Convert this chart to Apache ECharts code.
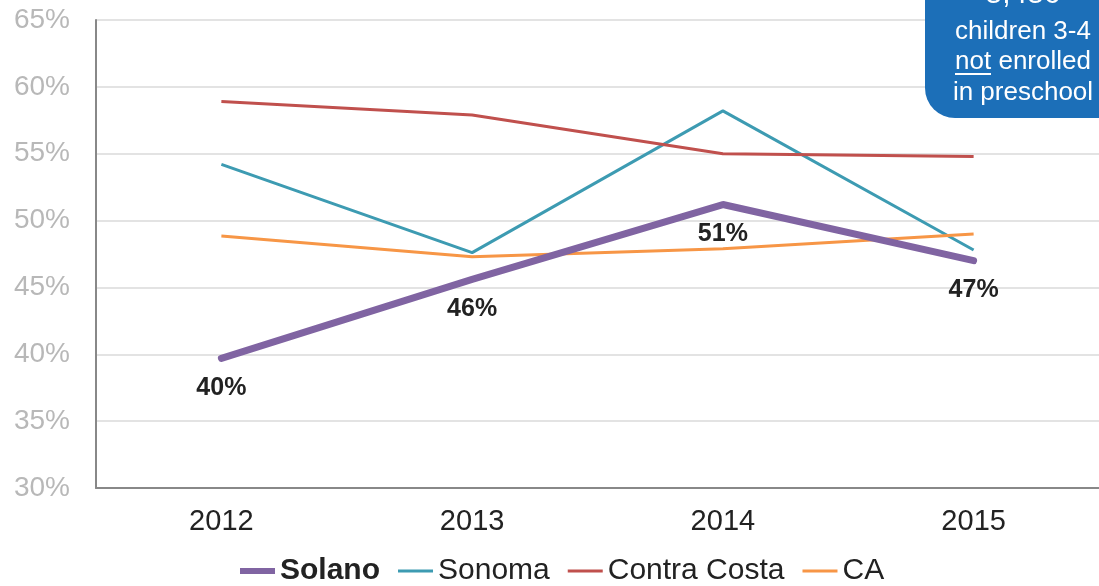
<!DOCTYPE html>
<html>
<head>
<meta charset="utf-8">
<script src="https://cdn.jsdelivr.net/npm/echarts@6/dist/echarts.min.js"></script>
<style>
  html, body { margin: 0; padding: 0; background: #fff; }
  #chart { width: 1099px; height: 586px; }
</style>
</head>
<body>
<div id="chart"></div>
<script>
// data
var years = ['2012', '2013', '2014', '2015']
var solano = [39.7, 45.6, 51.2, 47.0]
var sonoma = [54.2, 47.6, 58.2, 47.8]
var contraCosta = [58.9, 57.9, 55.0, 54.8]
var caState = [48.85, 47.3, 47.9, 49.0]
var solanoLabels = ['40%', '46%', '51%', '47%']

var font = 'Liberation Sans, Arial, sans-serif'
var thickIcon = 'path://M0,0 L35,0 L35,6 L0,6 Z'
var thinIcon = 'path://M0,0 L35,0 L35,3 L0,3 Z'
var myChart = echarts.init(document.getElementById('chart'))

function thinLine(name, data, color) {
    return {
        name: name,
        type: 'line',
        data: data,
        symbol: 'none',
        lineStyle: { width: 3, color: color },
        itemStyle: { color: color },
        z: 2
    }
}

var option = {
    animation: false,
    grid: { left: 96, right: -3, top: 20, bottom: 98 },
    legend: {
        left: 235,
        top: 551,
        itemWidth: 35,
        itemHeight: 6,
        itemGap: 18,
        textStyle: { fontFamily: font, fontSize: 30, color: '#222' },
        data: [
            { name: 'Solano', icon: thickIcon, textStyle: { fontWeight: 'bold' } },
            { name: 'Sonoma', icon: thinIcon },
            { name: 'Contra Costa', icon: thinIcon },
            { name: 'CA', icon: thinIcon }
        ]
    },
    xAxis: {
        type: 'category',
        data: years,
        boundaryGap: true,
        axisLine: { lineStyle: { color: '#888', width: 2 } },
        axisTick: { show: false },
        axisLabel: { fontFamily: font, fontSize: 29, color: '#222', margin: 19 }
    },
    yAxis: {
        type: 'value',
        min: 30,
        max: 65,
        interval: 5,
        axisLine: { show: true, lineStyle: { color: '#888', width: 2 } },
        axisTick: { show: false },
        splitLine: { lineStyle: { color: '#dadada', width: 1.5 } },
        axisLabel: {
            fontFamily: font, fontSize: 28, color: '#b8b8b8', margin: 26,
            formatter: '{value}%'
        }
    },
    series: [
        {
            name: 'Solano',
            type: 'line',
            data: solano,
            symbol: 'circle',
            symbolSize: 0,
            showSymbol: true,
            lineStyle: { width: 7, color: '#8064a2', cap: 'round' },
            itemStyle: { color: '#8064a2' },
            z: 4,
            label: {
                show: true,
                position: 'bottom',
                distance: 17,
                fontFamily: font,
                fontSize: 25,
                fontWeight: 'bold',
                color: '#222',
                formatter: function (p) { return solanoLabels[p.dataIndex] }
            }
        },
        thinLine('Sonoma', sonoma, '#3d9bb2'),
        thinLine('Contra Costa', contraCosta, '#c0504d'),
        thinLine('CA', caState, '#f79646')
    ],
    graphic: [
        {
            type: 'rect',
            shape: { x: 925, y: -40, width: 200, height: 158, r: [0, 0, 0, 30] },
            style: { fill: '#1c6fb8' },
            z: 10
        },
        {
            type: 'text',
            x: 1023, y: -5,
            style: {
                text: '5,456', fill: '#fff', font: '30px ' + font,
                textAlign: 'center', textVerticalAlign: 'middle'
            },
            z: 11
        },
        {
            type: 'text',
            x: 1023, y: 32,
            style: {
                text: 'children 3-4', fill: '#fff', font: '26px ' + font,
                textAlign: 'center', textVerticalAlign: 'middle'
            },
            z: 11
        },
        {
            type: 'text',
            x: 1023, y: 62,
            style: {
                text: 'not enrolled', fill: '#fff', font: '26px ' + font,
                textAlign: 'center', textVerticalAlign: 'middle'
            },
            z: 11
        },
        {
            // underline under "not"
            type: 'rect',
            shape: { x: 955, y: 73, width: 36, height: 2 },
            style: { fill: '#fff' },
            z: 11
        },
        {
            type: 'text',
            x: 1023, y: 93,
            style: {
                text: 'in preschool', fill: '#fff', font: '26px ' + font,
                textAlign: 'center', textVerticalAlign: 'middle'
            },
            z: 11
        }
    ]
}

myChart.setOption(option)
</script>
</body>
</html>
